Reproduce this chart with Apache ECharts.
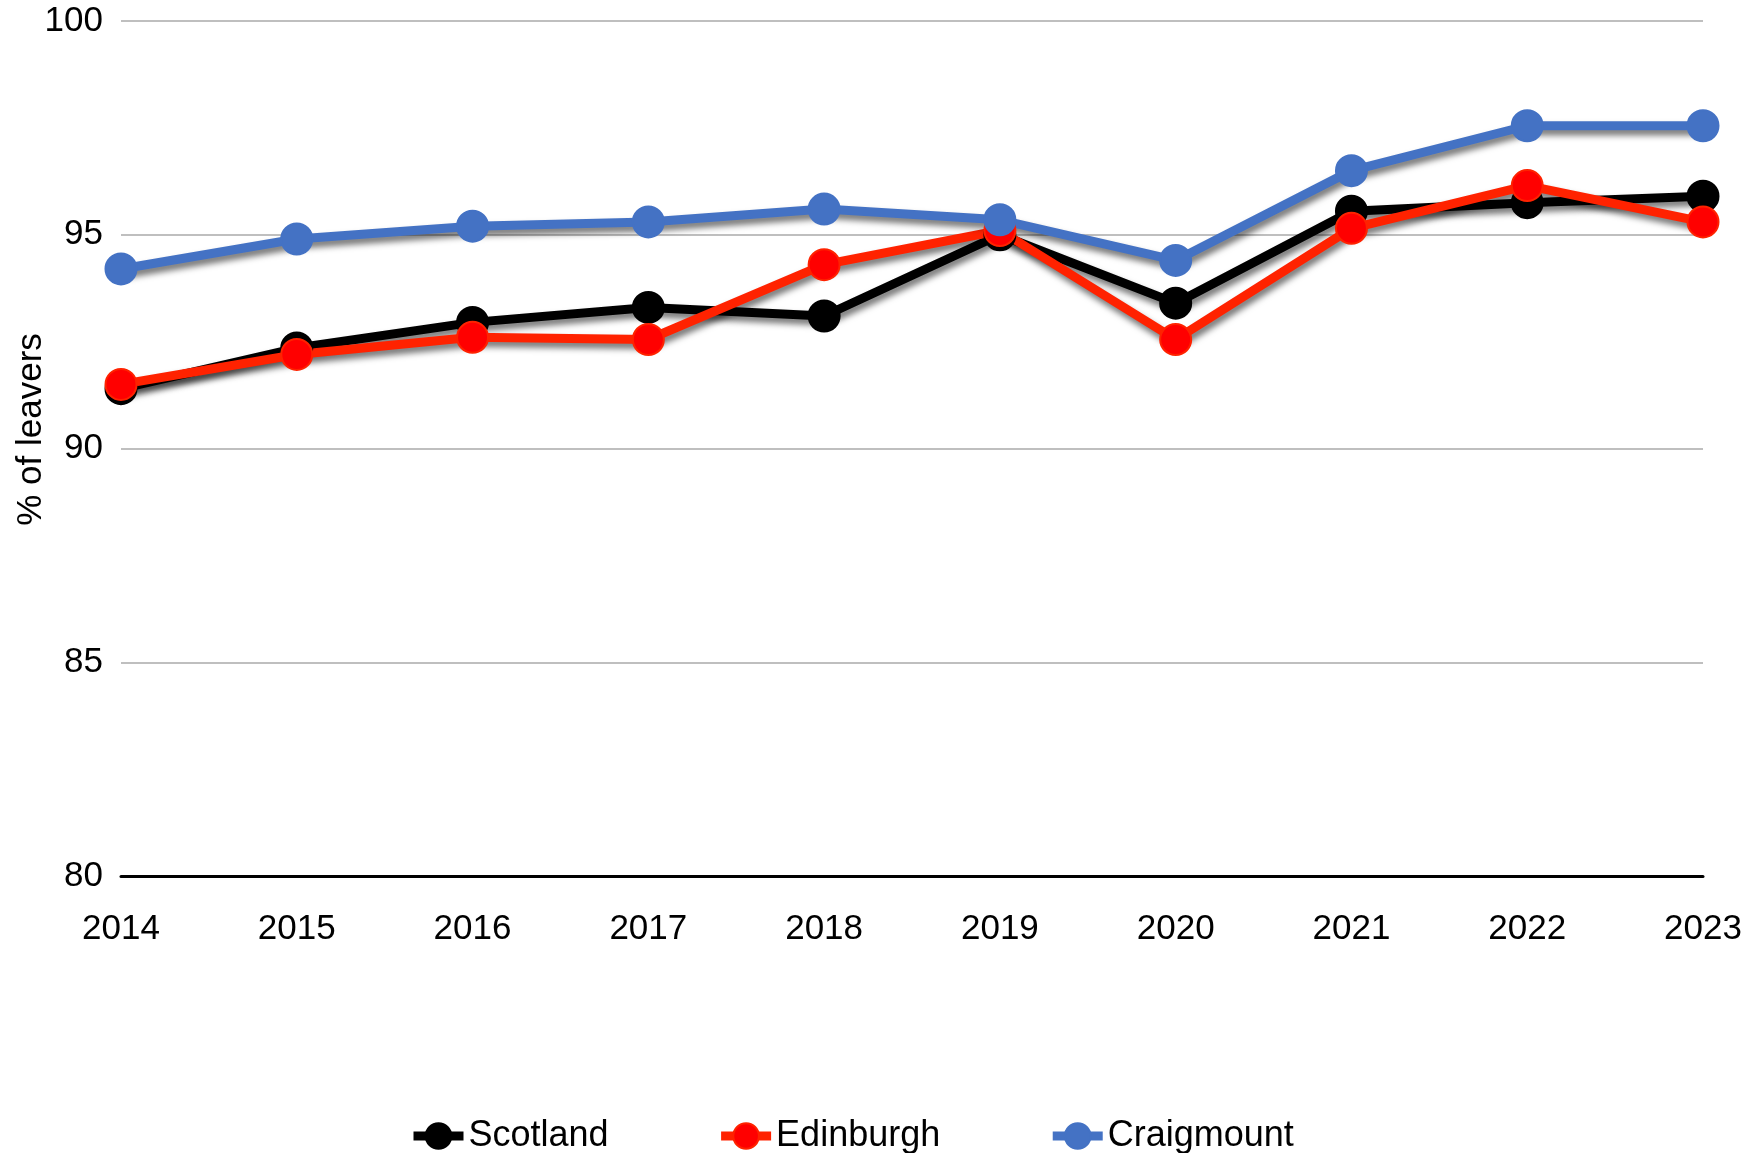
<!DOCTYPE html>
<html>
<head>
<meta charset="utf-8">
<script src="https://cdn.jsdelivr.net/npm/echarts@6/dist/echarts.min.js"></script>
<style>html,body{margin:0;padding:0;background:#fff;}#chart{width:1754px;height:1153px;}</style>
</head>
<body>
<div id="chart"></div>
<script>
const years = ['2014','2015','2016','2017','2018','2019','2020','2021','2022','2023'];
const scotland = [91.4, 92.35, 92.95, 93.3, 93.1, 95.0, 93.4, 95.55, 95.75, 95.9];
const edinburgh = [91.5, 92.2, 92.6, 92.55, 94.3, 95.1, 92.55, 95.15, 96.15, 95.3];
const craigmount = [94.2, 94.9, 95.2, 95.3, 95.6, 95.35, 94.4, 96.5, 97.55, 97.55];
const yTicks = {min: 80, max: 100, interval: 5};

const FONT = '"Liberation Sans", Arial, sans-serif';
function mk(name, data, lineColor, fillColor) {
  return {
    name: name, type: 'line', data: data,
    symbol: 'circle', symbolSize: 31,
    lineStyle: {color: lineColor, width: 9, shadowColor: 'rgba(0,0,0,0.55)', shadowBlur: 6, shadowOffsetX: 2, shadowOffsetY: 5},
    itemStyle: {color: fillColor, borderColor: lineColor, borderWidth: 2},
    emphasis: {disabled: true},
    animation: false
  };
}
const chart = echarts.init(document.getElementById('chart'));
chart.setOption({
  backgroundColor: '#fff',
  animation: false,
  grid: {left: 121, right: 51, top: 21, bottom: 277, containLabel: false, outerBoundsMode: 'none'},
  legend: {
    left: 409, top: 1118, padding: 0, itemWidth: 50, itemHeight: 32, itemGap: 108,
    textStyle: {fontFamily: FONT, fontSize: 36, color: '#000'},
    data: [
      {name: 'Scotland', lineStyle: {width: 9}},
      {name: 'Edinburgh', lineStyle: {width: 9}},
      {name: 'Craigmount', lineStyle: {width: 9}}
    ]
  },
  xAxis: {
    type: 'category', data: years, boundaryGap: false,
    axisLine: {show: true, lineStyle: {color: '#000', width: 3}},
    axisTick: {show: false},
    axisLabel: {fontFamily: FONT, fontSize: 35, color: '#000', margin: 36, interval: 0},
    splitLine: {show: false}
  },
  yAxis: {
    type: 'value', min: yTicks.min, max: yTicks.max, interval: yTicks.interval,
    name: '% of leavers', nameLocation: 'middle', nameGap: 72, nameRotate: 90, nameMoveOverlap: false,
    nameTextStyle: {fontFamily: FONT, fontSize: 35, color: '#000', padding: [0,0,0,38]},
    axisLine: {show: false}, axisTick: {show: false},
    axisLabel: {fontFamily: FONT, fontSize: 35, color: '#000', margin: 18},
    splitLine: {lineStyle: {color: '#BFBFBF', width: 2}}
  },
  series: [
    mk('Scotland', scotland, '#000000', '#000000'),
    mk('Edinburgh', edinburgh, '#FF2200', '#FF0000'),
    mk('Craigmount', craigmount, '#4472C4', '#4472C4')
  ]
});
</script>
</body>
</html>
